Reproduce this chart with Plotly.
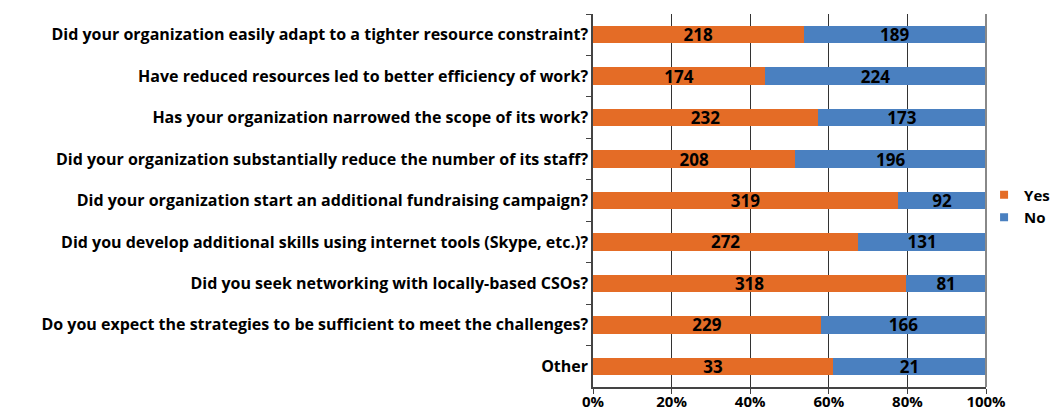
import plotly.graph_objects as go

questions = [
    "Did your organization easily adapt to a tighter resource constraint?",
    "Have reduced resources led to better efficiency of work?",
    "Has your organization narrowed the scope of its work?",
    "Did your organization substantially reduce the number of its staff?",
    "Did your organization start an additional fundraising campaign?",
    "Did you develop additional skills using internet tools (Skype, etc.)?",
    "Did you seek networking with locally-based CSOs?",
    "Do you expect the strategies to be sufficient to meet the challenges?",
    "Other",
]
yes_counts = [218, 174, 232, 208, 319, 272, 318, 229, 33]
no_counts = [189, 224, 173, 196, 92, 131, 81, 166, 21]
x_ticks = [0, 20, 40, 60, 80, 100]

FONT = "Open Sans"
ORANGE = "#E46C26"
BLUE = "#4A80C0"

fig = go.Figure()
for name, vals, color in [("Yes", yes_counts, ORANGE), ("No", no_counts, BLUE)]:
    fig.add_trace(go.Bar(
        y=questions,
        x=vals,
        name=name,
        orientation='h',
        marker=dict(color=color, line=dict(width=0)),
        text=[str(v) for v in vals],
        textposition='inside',
        insidetextanchor='middle',
        textangle=0,
        constraintext='none',
        textfont=dict(family=FONT, size=17, color='black', weight='bold'),
        showlegend=False,
    ))
    # legend entry with small square swatch
    fig.add_trace(go.Scatter(
        x=[None], y=[None], mode='markers', name=name,
        marker=dict(symbol='square', size=8, color=color),
    ))

# page body has an 8px margin, so the figure is sized to fit the window
fig.update_layout(
    width=1051,
    height=404,
    barmode='stack',
    barnorm='percent',
    bargap=0.58,
    plot_bgcolor='white',
    paper_bgcolor='white',
    margin=dict(l=585, r=73, t=6, b=25, autoexpand=False),
    font=dict(family=FONT, size=16, color='black'),
    legend=dict(
        xref='container', yref='container',
        x=0.9287, y=0.51, xanchor='left', yanchor='middle',
        traceorder='normal',
        font=dict(family=FONT, size=15, color='black', weight='bold'),
        itemwidth=30,
        tracegroupgap=0,
        bgcolor='rgba(0,0,0,0)',
    ),
    xaxis=dict(
        range=[0, 100],
        tickvals=x_ticks,
        ticktext=[f"{t}%" for t in x_ticks],
        showgrid=True,
        gridcolor='#333',
        gridwidth=1,
        zeroline=False,
        showline=True,
        linecolor='#444',
        linewidth=1.5,
        ticks='outside',
        ticklen=5,
        tickcolor='#444',
        ticklabelstandoff=-5,
        tickfont=dict(family=FONT, size=15, color='black', weight='bold'),
    ),
    yaxis=dict(
        categoryorder='array',
        categoryarray=questions,
        autorange='reversed',
        tickson='boundaries',
        ticks='outside',
        ticklen=5,
        tickcolor='#444',
        showline=True,
        linecolor='#444',
        linewidth=1.5,
        showgrid=False,
        tickfont=dict(family=FONT, size=16, color='black', weight='bold'),
    ),
    shapes=[dict(type='line', xref='paper', yref='paper', x0=1, x1=1, y0=0, y1=1,
                 line=dict(color='#888', width=2))],
)

fig.write_html("out.html")
